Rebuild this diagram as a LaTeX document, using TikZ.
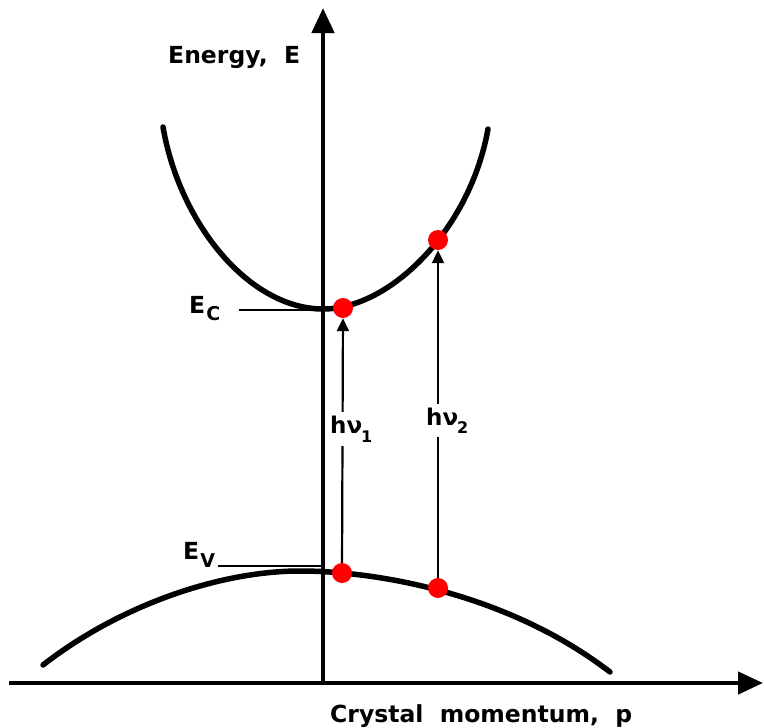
\documentclass[tikz,border=0pt]{standalone}
\usepackage{fontspec}
\setmainfont{DejaVu Sans}
\usetikzlibrary{arrows.meta}
\begin{document}
\begin{tikzpicture}[x=1pt,y=-1pt,
  axis/.style={line width=4.5pt,-{Triangle[length=25pt,width=22pt]}},
  band/.style={line width=5.5pt,line cap=round,line join=round},
  dot/.style={circle,fill=red,minimum size=20pt,inner sep=0pt},
  trans/.style={line width=2.2pt,-{Triangle[length=13pt,width=12pt]}},
  lvl/.style={line width=2.2pt},
  lbl/.style={font=\fontsize{23.5}{24}\selectfont\bfseries,inner sep=0pt},
  hnu/.style={font=\fontsize{23}{23}\selectfont\bfseries,fill=white,inner sep=4pt}]
\useasboundingbox (0,0) rectangle (764,728);
% axes
\coordinate (o) at (323,683);
\coordinate (ytip) at (323,8);
\coordinate (xl) at (9,683);
\coordinate (xtip) at (763,683);
\draw[axis] (o) -- (ytip);
\draw[axis] (xl) -- (xtip);
% conduction band
\draw[band] (163,127) .. controls (180,225) and (250,309) .. (323,309)
  .. controls (390,309) and (470,230) .. (488,129);
% valence band
\draw[band] (43,665) .. controls (120,605) and (220,571) .. (300,571)
  .. controls (380,571) and (510,595) .. (610,672);
% level lines and labels
\node[lbl,anchor=base west] (ec) at (189,313) {E\kern1pt\raisebox{-7pt}{\fontsize{19}{19}\selectfont C}};
\coordinate (ecs) at (239,310);
\coordinate (ece) at (323,310);
\draw[lvl] (ecs) -- (ece);
\node[lbl,anchor=base west] (ev) at (183,559) {E\kern1pt\raisebox{-8pt}{\fontsize{19}{19}\selectfont V}};
\coordinate (evs) at (218,566);
\coordinate (eve) at (323,566);
\draw[lvl] (evs) -- (eve);
% states
\node[dot] (c1) at (343,308) {};
\node[dot] (c2) at (438,240) {};
\node[dot] (v1) at (342,573) {};
\node[dot] (v2) at (438,588) {};
% transitions
\draw[trans] (v1) -- (c1);
\draw[trans] (v2) -- (c2);
\node[hnu,anchor=base west] (h1) at (326,433) {hν\kern-1pt\raisebox{-9pt}{\fontsize{16}{16}\selectfont 1}};
\node[hnu,anchor=base west] (h2) at (422,425) {hν\kern-1pt\raisebox{-8pt}{\fontsize{16}{16}\selectfont 2}};
% axis titles
\node[lbl,anchor=base west] (ye) at (168,63) {Energy,\ \ E};
\node[lbl,anchor=base west] (xp) at (330,722) {Crystal\ \ momentum,\ \ p};
\end{tikzpicture}
\end{document}
